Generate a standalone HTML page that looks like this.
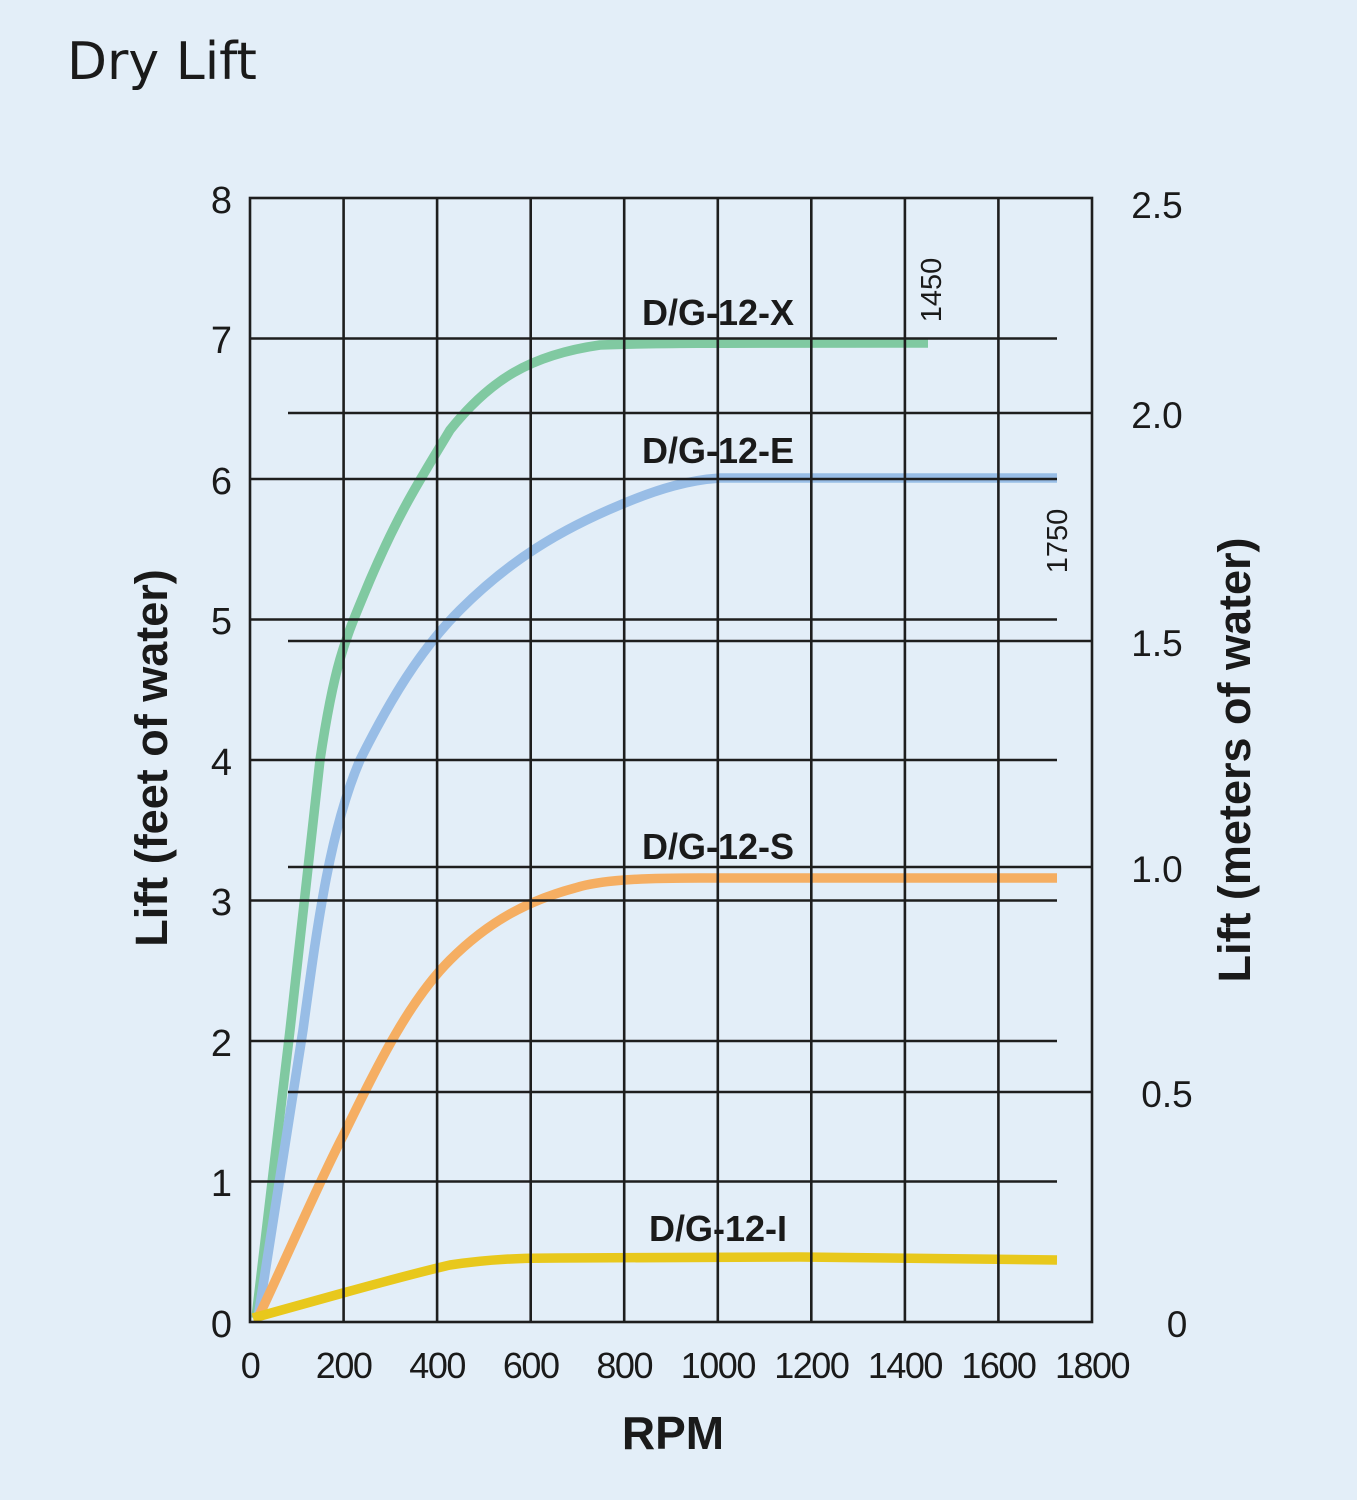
<!DOCTYPE html>
<html><head><meta charset="utf-8"><style>
html,body{margin:0;padding:0;background:#e3eef8;}
svg{display:block;}
text{font-family:"Liberation Sans",sans-serif;fill:#1a1a1a;}
</style></head><body>
<svg width="1357" height="1500" viewBox="0 0 1357 1500">
<rect width="1357" height="1500" fill="#e3eef8"/>
<text x="67" y="79" font-size="52" style="font-family:'DejaVu Sans','Liberation Sans',sans-serif">Dry Lift</text>
<g fill="none" stroke-width="9.5" stroke-linecap="butt" stroke-linejoin="round">
<path stroke="#80c9a1" d="M256,1318 L290,1030 L320,760 C335,660 345,640 370,580 C400,510 420,480 450,430 C490,380 530,355 600,345 C650,343 700,343 928,343"/>
<path stroke="#98bde6" d="M258,1318 L303,1030 C318,920 330,830 360,760 C390,700 420,650 460,610 C510,560 560,530 620,505 C660,488 690,480 720,478 L1057,478"/>
<path stroke="#f5ae62" d="M258,1318 C290,1250 320,1180 343,1136 C380,1060 410,1000 450,960 C490,920 530,900 575,888 C600,880 640,878 700,878 L1057,878"/>
<path stroke="#e8c81c" d="M253,1318 L343,1293 C390,1280 420,1272 450,1265 C490,1259 520,1258 560,1258 L800,1257 L1057,1260"/>
</g>
<g stroke="#1e1e1e" stroke-width="2.6" fill="none">
<rect x="250" y="198" width="842" height="1124"/>
<path d="M343.6,198V1322M437.1,198V1322M530.7,198V1322M624.2,198V1322M717.8,198V1322M811.3,198V1322M904.9,198V1322M998.4,198V1322"/>
<path d="M250,338.5H1057M250,479H1057M250,619.5H1057M250,760H1057M250,900.5H1057M250,1041H1057M250,1181.5H1057"/>
<path d="M288,413H1092M288,641H1092M288,867H1092M288,1092H1092"/>
</g>
<g font-size="38" text-anchor="end">
<text x="232" y="213">8</text><text x="232" y="353">7</text><text x="232" y="494">6</text><text x="232" y="634">5</text><text x="232" y="775">4</text><text x="232" y="915">3</text><text x="232" y="1056">2</text><text x="232" y="1196">1</text><text x="232" y="1337">0</text>
</g>
<g font-size="37" text-anchor="middle">
<text x="1157" y="218">2.5</text><text x="1157" y="428">2.0</text><text x="1157" y="656">1.5</text><text x="1157" y="882">1.0</text><text x="1167" y="1107">0.5</text><text x="1177" y="1337">0</text>
</g>
<g font-size="36" text-anchor="middle" letter-spacing="-1.5">
<text x="250" y="1378">0</text><text x="343.6" y="1378">200</text><text x="437.1" y="1378">400</text><text x="530.7" y="1378">600</text><text x="624.2" y="1378">800</text><text x="717.8" y="1378">1000</text><text x="811.3" y="1378">1200</text><text x="904.9" y="1378">1400</text><text x="998.4" y="1378">1600</text><text x="1092" y="1378">1800</text>
</g>
<text x="673" y="1449" font-size="46" font-weight="bold" text-anchor="middle">RPM</text>
<text transform="translate(167,758) rotate(-90)" font-size="45" font-weight="bold" text-anchor="middle">Lift (feet of water)</text>
<text transform="translate(1250,760) rotate(-90)" font-size="45" font-weight="bold" text-anchor="middle">Lift (meters of water)</text>
<g font-size="36" font-weight="bold" text-anchor="middle">
<text x="718" y="325">D/G-12-X</text>
<text x="718" y="463">D/G-12-E</text>
<text x="718" y="859">D/G-12-S</text>
<text x="718" y="1241">D/G-12-I</text>
</g>
<text transform="translate(941,290) rotate(-90)" font-size="29" text-anchor="middle">1450</text>
<text transform="translate(1067,541) rotate(-90)" font-size="29" text-anchor="middle">1750</text>
</svg>
</body></html>
